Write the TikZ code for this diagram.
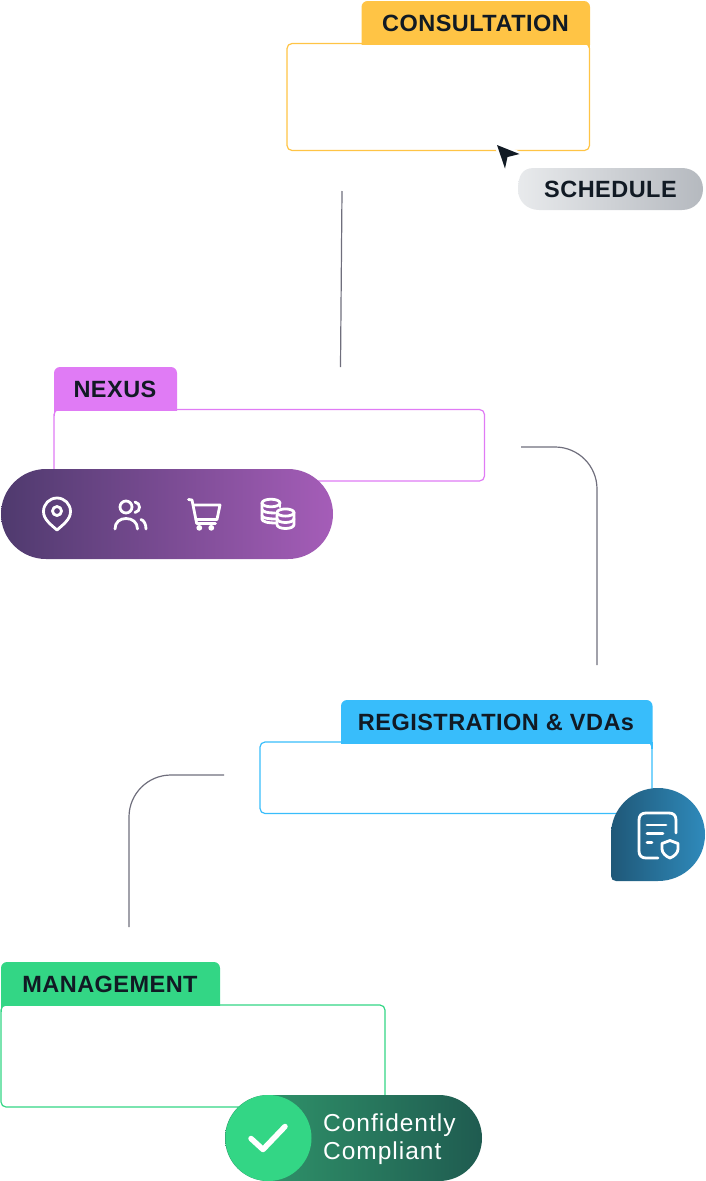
\documentclass[tikz,border=0pt]{standalone}
\usepackage{fontspec}
\setmainfont{Liberation Sans}
\newfontfamily\tabfont[LetterSpace=2]{Liberation Sans}
\newfontfamily\bodyfont[LetterSpace=4]{Liberation Sans}
\definecolor{ink}{HTML}{111A24}
\definecolor{wire}{HTML}{6F6E7C}
\definecolor{cyellow}{HTML}{FFC445}
\definecolor{cpink}{HTML}{E07BF5}
\definecolor{cblue}{HTML}{38BDFB}
\definecolor{cgreen}{HTML}{33D685}
\definecolor{GreyA}{HTML}{E8EAEC}
\definecolor{GreyB}{HTML}{B5B9BF}
\definecolor{PurA}{HTML}{4F3A6E}
\definecolor{PurB}{HTML}{A55DB8}
\definecolor{TealA}{HTML}{1F5878}
\definecolor{TealB}{HTML}{2F8ABB}
\definecolor{GrnA}{HTML}{329C6E}
\definecolor{GrnB}{HTML}{1F5B50}
\tikzset{
  x=1pt,y=-1pt,
  cardbox/.style={draw=#1,fill=white,line width=1.2pt,rounded corners=5pt,inner sep=0pt,outer sep=0pt},
  tabtext/.style={text=ink,font=\tabfont\bfseries\fontsize{23.5}{27}\selectfont,inner sep=0pt,anchor=base},
  wireline/.style={draw=wire,line width=1.2pt},
  iconline/.style={draw=white,line width=2.8pt,line cap=round,line join=round},
  bodytext/.style={text=white,font=\bodyfont\fontsize{24.5}{28}\selectfont,anchor=base west,inner sep=0pt},
}
% colour, x1, x2, y1, y2, x of the short side edge below the tab
\newcommand{\tabshape}[6]{%
  \begin{scope}\clip (#2-1,#4-1) rectangle (#3+1,#5);
  \fill[#1,rounded corners=6pt] (#2,#4) rectangle (#3,#5+10);
  \end{scope}
  \draw[#1,line width=1.2pt] (#6,#5-1) -- (#6,#5+6);}
\begin{document}
\begin{tikzpicture}
\useasboundingbox (0,0) rectangle (705,1181);
% connectors
\coordinate (w1a) at (342,191); \coordinate (w1b) at (340.5,367);
\coordinate (w2a) at (521,447); \coordinate (w2c) at (597,447); \coordinate (w2b) at (597,665);
\coordinate (w3a) at (224,775); \coordinate (w3c) at (129,775); \coordinate (w3b) at (129,927);
\draw[wireline] (w1a) -- (w1b);
\draw[wireline,rounded corners=42pt] (w2a) -- (w2c) -- (w2b);
\draw[wireline,rounded corners=42pt] (w3a) -- (w3c) -- (w3b);
% consultation
\node[cardbox=cyellow,minimum width=302.5pt,minimum height=107pt] (consultbox) at (438.25,97) {};
\tabshape{cyellow}{361.5}{590}{1}{44}{589.5}
\node[tabtext] (consulttext) at (475.5,31) {CONSULTATION};
% cursor
\coordinate (c1) at (497,145); \coordinate (c2) at (519.5,154); \coordinate (c3) at (507.5,157); \coordinate (c4) at (505,168.5);
\fill[ink,draw=white,line width=5pt,line join=round] (c1) -- (c2) -- (c3) -- (c4) -- cycle;
\fill[ink] (c1) -- (c2) -- (c3) -- (c4) -- cycle;
% schedule
\path[left color=GreyA,right color=GreyB] (518,190) .. controls (518,176) and (522,168) .. (534,168) -- (682,168) .. controls (694,168) and (703,177) .. (703,189) .. controls (703,201) and (694,210) .. (682,210) -- (539,210) .. controls (527,210) and (518,201) .. (518,190) -- cycle;
\node[tabtext] (scheduletext) at (610.5,197.5) {SCHEDULE};
% nexus
\node[cardbox=cpink,minimum width=430.5pt,minimum height=71.5pt] (nexusbox) at (269.25,445.25) {};
\tabshape{cpink}{54}{177}{367}{410}{54.5}
\node[tabtext] (nexustext) at (115,397.5) {NEXUS};
\node[left color=PurA,right color=PurB,minimum width=332pt,minimum height=90pt,rounded corners=45pt,inner sep=0pt,outer sep=0pt] (nexuspill) at (167,514) {};
% pin
\draw[iconline] (43.5,511.5) .. controls (43.5,504) and (49.5,498) .. (57,498) .. controls (64.5,498) and (70.5,504) .. (70.5,511.5) .. controls (70.5,519) and (64,524) .. (57,530) .. controls (50,524) and (43.5,519) .. (43.5,511.5) -- cycle;
\draw[iconline] (57,511) circle[radius=4.5];
% people
\draw[iconline] (126,507) circle[radius=6];
\draw[iconline] (115,529) .. controls (115,522) and (120,518.5) .. (126,518.5) .. controls (132,518.5) and (137.5,522) .. (137.5,529);
\draw[iconline] (135,502) .. controls (141,503) and (141,511.5) .. (135,512.5);
\draw[iconline] (141,519.5) .. controls (144,520.5) and (146,524) .. (146,529);
% cart
\draw[iconline] (188.5,499.5) -- (192,500) -- (196.7,523.5) -- (215.5,523.5);
\draw[iconline] (193.5,505) -- (220,505) -- (217,519.5) -- (196,519.5);
\fill[white] (199.3,527.8) circle[radius=2.9] (211.3,527.8) circle[radius=2.9];
% coins
\draw[iconline] (271,503) ellipse[x radius=9,y radius=3.8];
\draw[iconline] (262,503) -- (262,519) .. controls (262,521.5) and (267,523) .. (276,523);
\draw[iconline] (280,503) -- (280,507);
\draw[iconline] (262,509.5) .. controls (263,512) and (268,513) .. (275,513);
\draw[iconline] (262,516) .. controls (263,518) and (268,519) .. (276,519);
\draw[iconline] (285.5,512.5) ellipse[x radius=8.5,y radius=3.6];
\draw[iconline] (277,512.5) -- (277,524.5) .. controls (277,527) and (281,528.5) .. (285.5,528.5) .. controls (290,528.5) and (294,527) .. (294,524.5) -- (294,512.5);
\draw[iconline] (277,518.5) .. controls (277,521) and (281,522.5) .. (285.5,522.5) .. controls (290,522.5) and (294,521) .. (294,518.5);
% registration
\node[cardbox=cblue,minimum width=392pt,minimum height=71.5pt] (regbox) at (456,777.75) {};
\tabshape{cblue}{341}{652.5}{700}{743}{652}
\node[tabtext] (regtext) at (496,730.5) {REGISTRATION \& VDAs};
\path[left color=TealA,right color=TealB] (611,834.5) .. controls (611,808.6) and (632.1,788) .. (658,788) .. controls (683.9,788) and (705,808.6) .. (705,834.5) .. controls (705,860.4) and (683.9,881) .. (658,881) -- (616,881) .. controls (613,881) and (611,879) .. (611,876) -- cycle;
\draw[iconline] (676,833) -- (676,820) .. controls (676,815.5) and (673.5,813) .. (669,813) -- (646,813) .. controls (641.5,813) and (639,815.5) .. (639,820) -- (639,851) .. controls (639,855.5) and (641.5,858) .. (646,858) -- (658,858);
\draw[iconline] (647,825) -- (666,825);
\draw[iconline] (647,833.3) -- (663,833.3);
\draw[iconline] (647,842.3) -- (652,842.3);
\draw[iconline] (670,840.5) -- (678,843.5) -- (678,849) .. controls (678,853) and (674,856.5) .. (670,858) .. controls (666,856.5) and (662,853) .. (662,849) -- (662,843.5) -- cycle;
% management
\node[cardbox=cgreen,minimum width=384pt,minimum height=102pt] (mgmtbox) at (193,1056) {};
\tabshape{cgreen}{1}{220}{962}{1005.5}{1.5}
\node[tabtext] (mgmttext) at (110,992.5) {MANAGEMENT};
\node[left color=GrnA,right color=GrnB,minimum width=257pt,minimum height=86pt,rounded corners=43pt,inner sep=0pt,outer sep=0pt] (mgmtpill) at (353.5,1138) {};
\node[circle,fill=cgreen,minimum size=86pt,inner sep=0pt,outer sep=0pt] (checkdisc) at (268.5,1138) {};
\coordinate (k1) at (251,1138.5); \coordinate (k2) at (263,1149.5); \coordinate (k3) at (285,1126.5);
\draw[draw=white,line width=5.5pt,line cap=round,line join=round] (k1) -- (k2) -- (k3);
\node[bodytext] (conftext) at (323,1131) {Confidently};
\node[bodytext] (comptext) at (323,1159) {Compliant};
\end{tikzpicture}
\end{document}
